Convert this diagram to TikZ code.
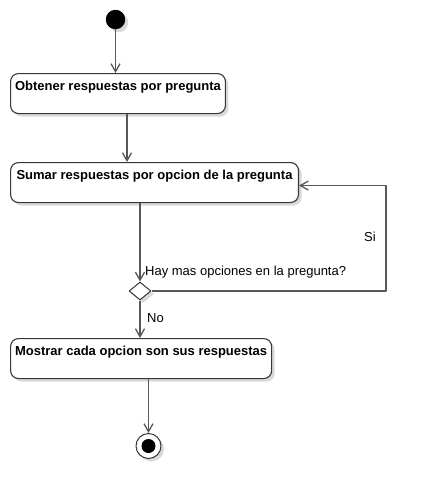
\documentclass[tikz,border=0pt]{standalone}
\usepackage{fontspec}
\setmainfont{Liberation Sans}
\usetikzlibrary{arrows.meta,shapes.geometric,shadows}

\definecolor{linegray}{RGB}{88,88,88}
\definecolor{boxgray}{RGB}{55,55,55}

\begin{document}
\begin{tikzpicture}[x=1pt, y=-1pt, line join=round]

    % let's define some key values
    \def\xboxes{10}
    \def\xstart{115.5}
    \def\ystart{19.5}
    \def\yboxone{73}
    \def\yboxtwo{162}
    \def\yboxthree{338}
    \def\xdecision{140}
    \def\ydecision{291}
    \def\xloop{386}
    \def\xfinal{148.5}
    \def\yfinal{446}

    \useasboundingbox (0,0) rectangle (427,499);

    % Styles
    \tikzstyle{shade}=[drop shadow={shadow xshift=3pt, shadow yshift=-3pt,
        opacity=0.15, fill=black}]
    \tikzstyle{activity}=[draw=boxgray, line width=1.1, fill=white,
        rounded corners=8, anchor=north west, inner xsep=4.5, inner ysep=2.5,
        text height=14, text depth=21,
        font=\fontsize{13}{15}\selectfont\bfseries, shade]
    \tikzstyle{guard}=[anchor=base west, inner sep=0,
        font=\fontsize{13}{15}\selectfont]
    \tikzstyle{flow}=[draw=linegray, line width=1.3,
        -{Straight Barb[length=8pt, width=9pt]}]

    % initial node
    \node[circle, fill=black, minimum size=19.5, inner sep=0, shade]
        (start) at (\xstart,\ystart) {};

    % activities
    \node[activity] (box1) at (\xboxes,\yboxone)
        {Obtener respuestas por pregunta};
    \node[activity, inner xsep=6] (box2) at (\xboxes,\yboxtwo)
        {Sumar respuestas por opcion de la pregunta};
    \node[activity] (box3) at (\xboxes,\yboxthree)
        {Mostrar cada opcion son sus respuestas};

    % decision
    \node[diamond, draw=boxgray, line width=1, fill=white, inner sep=0,
        minimum width=22, minimum height=18, shade]
        (dec) at (\xdecision,\ydecision) {};
    \coordinate (loop) at (\xloop,\ydecision);

    % final node
    \node[circle, draw=boxgray, line width=1, fill=white, minimum size=25,
        inner sep=0, shade] (final) at (\xfinal,\yfinal) {};
    \fill[black] (final) circle (7);

    % guards
    \node[guard] (question) at (145,275) {Hay mas opciones en la pregunta?};
    \node[guard] (si) at (364,241) {Si};
    \node[guard] (no) at (147,322) {No};

    % control flows
    \draw[flow] (start) -- (start |- box1.north);
    \coordinate (b1out) at ([xshift=9]box1.south);
    \draw[flow] (b1out) -- (b1out |- box2.north);
    \draw[flow] (box2.south -| dec) -- (dec.north);
    \draw[flow] (dec.east) -- (loop) |- ([yshift=-3]box2.east);
    \draw[flow] (dec.south) -- (dec.south |- box3.north);
    \draw[flow] (box3.south -| final) -- (final);

\end{tikzpicture}
\end{document}
